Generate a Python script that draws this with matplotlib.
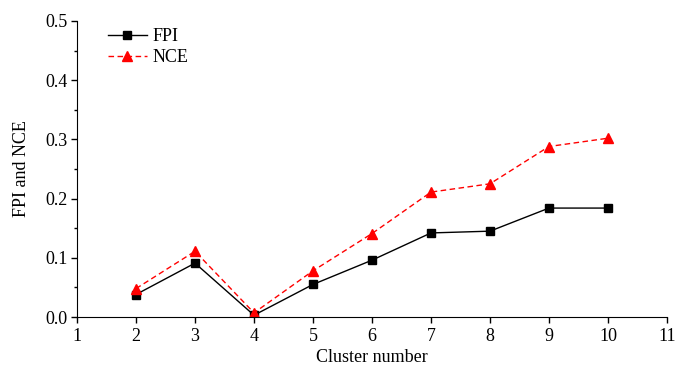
import matplotlib
matplotlib.use("Agg")
import matplotlib.pyplot as plt
from matplotlib.ticker import MultipleLocator

clusters = [2, 3, 4, 5, 6, 7, 8, 9, 10]
fpi = [0.038, 0.091, 0.003, 0.055, 0.096, 0.142, 0.145, 0.184, 0.184]
nce = [0.048, 0.111, 0.007, 0.078, 0.141, 0.211, 0.225, 0.288, 0.302]

plt.rcParams['font.family'] = ['Liberation Serif', 'DejaVu Serif']
plt.rcParams['font.size'] = 13

fig = plt.figure(figsize=(6.75, 3.65), dpi=100)
ax = fig.add_axes([77/675, 1 - 317/365, (667-77)/675, (317-21)/365])

ax.plot(clusters, fpi, color='black', lw=1, marker='s', ms=6, label='FPI')
ax.plot(clusters, nce, color='red', lw=1, ls=(0, (4, 2.5)), marker='^', ms=7, label='NCE')

ax.set_xlim(1, 11)
ax.set_ylim(0, 0.5)
ax.xaxis.set_major_locator(MultipleLocator(1))
ax.yaxis.set_major_locator(MultipleLocator(0.1))
ax.yaxis.set_minor_locator(MultipleLocator(0.05))
ax.yaxis.set_major_formatter(plt.FuncFormatter(lambda v, p: f"{v:.1f}"))
ax.tick_params(axis='both', which='major', direction='out', length=4.5, width=1,
               labelsize=13, pad=2.5)
ax.tick_params(axis='x', which='major', pad=3.5)
ax.tick_params(axis='y', which='minor', direction='out', length=2.3, width=1)
for s in ['top', 'right']:
    ax.spines[s].set_visible(False)
ax.set_xlabel('Cluster number', fontsize=13, labelpad=3)
ax.set_ylabel('FPI and NCE', fontsize=13, labelpad=11)

ax.legend(loc='upper left', bbox_to_anchor=(0.0525, 0.975), frameon=False, fontsize=13,
          handlelength=2.15, handletextpad=0.3, labelspacing=0.2,
          borderpad=0, borderaxespad=0)

fig.savefig('out.png', dpi=100)
